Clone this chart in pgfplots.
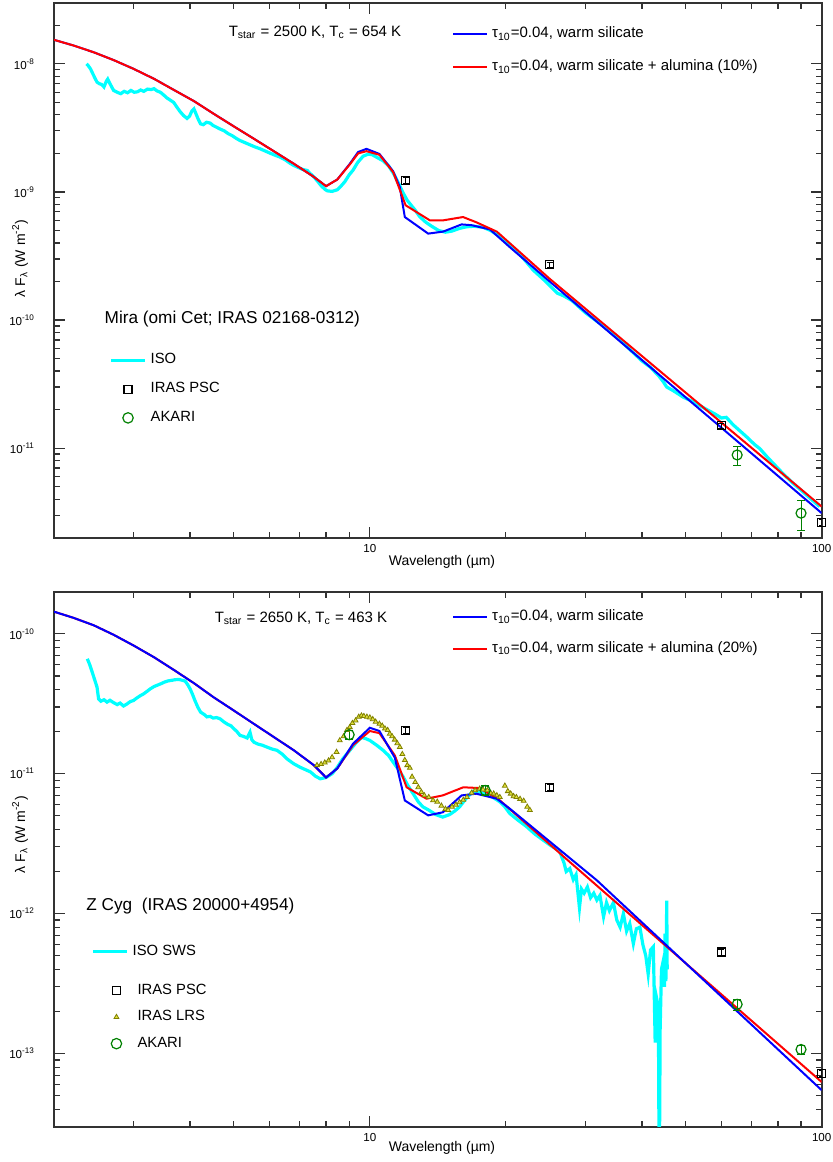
\documentclass[border=0pt]{standalone}
\usepackage{fontspec}
\setmainfont{Liberation Sans}
\usepackage{pgfplots}
\pgfplotsset{compat=1.18}

\definecolor{isocyan}{RGB}{0,255,255}
\definecolor{modblue}{RGB}{0,0,255}
\definecolor{modred}{RGB}{255,0,0}
\definecolor{akgreen}{RGB}{0,128,0}
\definecolor{lrsolive}{RGB}{128,128,0}
\definecolor{lrsfill}{RGB}{225,225,60}
\definecolor{axgray}{RGB}{50,50,50}

\pgfplotsset{
  psc/.style={only marks, mark=square, mark size=2pt, black,
    mark options={line width=0.6pt},
    error bars/y dir=both, error bars/y explicit,
    error bars/error mark options={rotate=90, mark size=1.5pt, black},
    error bars/error bar style={line width=0.5pt}},
  akari/.style={only marks, mark=o, mark size=2.5pt, akgreen,
    mark options={line width=0.6pt},
    error bars/y dir=both, error bars/y explicit,
    error bars/error mark options={rotate=90, mark size=2pt, akgreen},
    error bars/error bar style={line width=0.5pt, akgreen}},
  % legend sample: one mark in a cell as wide as a line sample
  markimage/.style={legend image code/.code={%
    \path[draw=none, fill=none] (0cm,0cm) -- (0.6cm,0cm);
    \draw[##1] plot coordinates {(0.3cm,0cm)};}},
}

\begin{document}
\begin{tikzpicture}
\path[use as bounding box] (0,0) rectangle (416.5pt,581pt);

% ---------------- Mira ----------------
\begin{axis}[at={(27pt,312.15pt)}, anchor=south west,
  scale only axis, width=383.85pt, height=267.5pt,
  xmode=log, ymode=log, xmin=2, xmax=100,
  xtick={10,100}, xticklabels={10,100},
  minor xtick={3,4,5,6,7,8,9,20,30,40,50,60,70,80,90},
  tick align=inside, major tick length=5.5pt, minor tick length=3pt,
  axis line style={axgray, line width=0.8pt},
  tick style={axgray, line width=0.6pt},
  tick label style={font=\fontsize{5.8}{6}\selectfont},
  yticklabel style={xshift=-6pt},
  ymin=2e-12, ymax=3e-8,
  ytick={1e-11,1e-10,1e-9,1e-8},
  yticklabels={10\textsuperscript{-11},10\textsuperscript{-10},10\textsuperscript{-9},10\textsuperscript{-8}},
  minor ytick={3e-12,4e-12,5e-12,6e-12,7e-12,8e-12,9e-12,
    2e-11,3e-11,4e-11,5e-11,6e-11,7e-11,8e-11,9e-11,
    2e-10,3e-10,4e-10,5e-10,6e-10,7e-10,8e-10,9e-10,
    2e-9,3e-9,4e-9,5e-9,6e-9,7e-9,8e-9,9e-9,2e-8},
  legend cell align=left,
  legend style={draw=none, fill=none, inner sep=0pt, anchor=west,
    at={(0.518,0.911)}, row sep=5.5pt, font=\fontsize{7.5}{9}\selectfont}]
% ISO
\addplot[isocyan, line width=1.6pt, forget plot] coordinates {
(2.36,1.0e-8)(2.38,9.7e-9)(2.41,9.1e-9)(2.44,8.3e-9)(2.47,7.6e-9)(2.49,7.2e-9)
(2.52,7.0e-9)(2.55,6.9e-9)(2.58,6.6e-9)(2.61,7.3e-9)(2.63,7.6e-9)(2.66,7.0e-9)
(2.69,6.5e-9)(2.71,6.2e-9)(2.76,6.0e-9)(2.81,5.85e-9)(2.86,6.1e-9)(2.91,5.95e-9)
(2.96,6.2e-9)(3.01,6.0e-9)(3.06,6.05e-9)(3.11,6.25e-9)(3.16,6.1e-9)(3.22,6.35e-9)
(3.28,6.3e-9)(3.33,6.4e-9)(3.38,6.15e-9)(3.44,6.0e-9)(3.50,5.7e-9)(3.56,5.4e-9)
(3.62,5.2e-9)(3.68,5.0e-9)(3.74,4.6e-9)(3.80,4.25e-9)(3.87,3.95e-9)(3.94,3.75e-9)
(3.99,3.9e-9)(4.04,4.3e-9)(4.08,4.45e-9)(4.12,4.1e-9)(4.17,3.7e-9)(4.22,3.4e-9)
(4.28,3.35e-9)(4.35,3.5e-9)(4.43,3.45e-9)(4.50,3.3e-9)(4.58,3.2e-9)(4.66,3.1e-9)
(4.76,3.0e-9)(4.86,2.85e-9)(4.96,2.75e-9)(5.06,2.62e-9)(5.16,2.52e-9)(5.30,2.42e-9)
(5.45,2.32e-9)(5.58,2.24e-9)(5.72,2.17e-9)(5.88,2.08e-9)(6.03,2.0e-9)(6.18,1.93e-9)
(6.33,1.87e-9)(6.50,1.78e-9)(6.65,1.68e-9)(6.79,1.61e-9)(6.95,1.55e-9)(7.10,1.5e-9)
(7.27,1.47e-9)(7.40,1.38e-9)(7.52,1.31e-9)(7.65,1.22e-9)(7.80,1.12e-9)(7.95,1.05e-9)
(8.05,1.02e-9)(8.25,1.01e-9)(8.47,1.04e-9)(8.65,1.12e-9)(8.80,1.2e-9)(9.00,1.36e-9)
(9.18,1.48e-9)(9.40,1.7e-9)(9.66,1.9e-9)(9.90,1.97e-9)(10.1,1.96e-9)(10.4,1.85e-9)
(10.7,1.75e-9)(11.0,1.6e-9)(11.3,1.38e-9)(11.6,1.15e-9)(11.85,9.8e-10)(12.1,8.6e-10)
(12.3,8.0e-10)(12.6,7.2e-10)(12.9,6.4e-10)(13.3,5.8e-10)(13.7,5.4e-10)(14.2,5.0e-10)
(14.7,4.85e-10)(15.2,4.95e-10)(15.8,5.2e-10)(16.4,5.35e-10)(17.0,5.4e-10)(17.8,5.3e-10)
(18.5,5.0e-10)(19.4,4.5e-10)(20.4,3.9e-10)(21.5,3.25e-10)(23.0,2.45e-10)(24.5,2.0e-10)
(26.0,1.62e-10)(26.8,1.55e-10)(28.0,1.42e-10)(30.0,1.14e-10)(32.3,9.4e-11)(35.0,7.5e-11)
(38.0,5.7e-11)(40.0,4.8e-11)(41.7,4.3e-11)(43.5,3.7e-11)(44.6,3.3e-11)(45.4,3.0e-11)
(47.0,2.8e-11)(49.4,2.5e-11)(52.0,2.3e-11)(55.0,2.05e-11)(58.0,1.85e-11)(60.0,1.72e-11)
(61.5,1.74e-11)(63.7,1.52e-11)(66.0,1.36e-11)(68.3,1.22e-11)(71.0,1.07e-11)(73.0,9.9e-12)
(75.6,8.6e-12)(79.0,7.3e-12)(82.2,6.3e-12)(86.0,5.4e-12)(90.0,4.7e-12)(94.0,4.1e-12)
(99.0,3.5e-12)};
% warm silicate
\addplot[modblue, line width=1pt] coordinates {
(2.0,1.54e-8)(2.21,1.39e-8)(2.45,1.23e-8)(2.71,1.07e-8)(3.0,9.14e-9)(3.33,7.64e-9)
(3.68,6.27e-9)(4.08,5.12e-9)(4.51,4.08e-9)(5.0,3.25e-9)(5.54,2.6e-9)(6.13,2.08e-9)
(6.79,1.66e-9)(7.52,1.31e-9)(8.0,1.11e-9)(8.47,1.25e-9)(9.03,1.66e-9)(9.42,2.05e-9)
(9.83,2.17e-9)(10.5,1.98e-9)(11.26,1.45e-9)(11.65,1.09e-9)(11.95,6.37e-10)(13.46,4.73e-10)
(14.52,4.9e-10)(15.96,5.58e-10)(16.8,5.5e-10)(18.44,5.1e-10)(20.42,3.7e-10)
(25,2.0e-10)(100,3.11e-12)};
\addlegendentry{τ\textsubscript{10}=0.04, warm silicate}
% warm silicate + alumina
\addplot[modred, line width=1pt] coordinates {
(2.0,1.54e-8)(2.21,1.39e-8)(2.45,1.23e-8)(2.71,1.07e-8)(3.0,9.14e-9)(3.33,7.64e-9)
(3.68,6.27e-9)(4.08,5.12e-9)(4.51,4.08e-9)(5.0,3.25e-9)(5.54,2.6e-9)(6.13,2.08e-9)
(6.79,1.66e-9)(7.52,1.31e-9)(8.0,1.11e-9)(8.47,1.25e-9)(9.03,1.64e-9)(9.42,2.0e-9)
(9.83,2.08e-9)(10.5,1.95e-9)(11.26,1.43e-9)(12.0,7.87e-10)(13.58,6.0e-10)(14.52,6.0e-10)
(16.08,6.37e-10)(17.2,5.8e-10)(19.1,4.9e-10)(25,2.1e-10)(100,3.5e-12)};
\addlegendentry{τ\textsubscript{10}=0.04, warm silicate + alumina (10\%)}
% IRAS PSC
\addplot[psc, forget plot] table[x=x, y=y, y error=e] {
x y e
12 1.23e-9 0.06e-9
25 2.71e-10 0.13e-10
60 1.50e-11 0.07e-11
100 2.64e-12 0.13e-12
};
% AKARI
\addplot[akari, forget plot] table[x=x, y=y, y error=e] {
x y e
65 8.85e-12 1.5e-12
90 3.11e-12 0.82e-12
};
\end{axis}

% data legend, Mira
\begin{axis}[at={(27pt,312.15pt)}, anchor=south west,
  scale only axis, width=383.85pt, height=267.5pt,
  xmin=0, xmax=1, ymin=0, ymax=1, hide axis,
  legend cell align=left,
  legend style={draw=none, fill=none, inner sep=0pt, anchor=west,
    at={(0.0716,0.2778)}, row sep=3.75pt, font=\fontsize{7.4}{9}\selectfont}]
\addlegendimage{isocyan, line width=1.6pt}
\addlegendentry{ISO}
\addlegendimage{markimage, only marks, mark=square, mark size=2pt, black, mark options={line width=0.6pt}}
\addlegendentry{IRAS PSC}
\addlegendimage{markimage, only marks, mark=o, mark size=2.6pt, akgreen, mark options={line width=0.6pt}}
\addlegendentry{AKARI}
\end{axis}

% ---------------- Z Cyg ----------------
\begin{axis}[at={(27pt,17.65pt)}, anchor=south west,
  scale only axis, width=383.85pt, height=267.5pt,
  xmode=log, ymode=log, xmin=2, xmax=100,
  xtick={10,100}, xticklabels={10,100},
  minor xtick={3,4,5,6,7,8,9,20,30,40,50,60,70,80,90},
  tick align=inside, major tick length=5.5pt, minor tick length=3pt,
  axis line style={axgray, line width=0.8pt},
  tick style={axgray, line width=0.6pt},
  tick label style={font=\fontsize{5.8}{6}\selectfont},
  yticklabel style={xshift=-6pt},
  ymin=3e-14, ymax=2e-10,
  ytick={1e-13,1e-12,1e-11,1e-10},
  yticklabels={10\textsuperscript{-13},10\textsuperscript{-12},10\textsuperscript{-11},10\textsuperscript{-10}},
  minor ytick={4e-14,5e-14,6e-14,7e-14,8e-14,9e-14,
    2e-13,3e-13,4e-13,5e-13,6e-13,7e-13,8e-13,9e-13,
    2e-12,3e-12,4e-12,5e-12,6e-12,7e-12,8e-12,9e-12,
    2e-11,3e-11,4e-11,5e-11,6e-11,7e-11,8e-11,9e-11,2e-10},
  legend cell align=left,
  legend style={draw=none, fill=none, inner sep=0pt, anchor=west,
    at={(0.518,0.9233)}, row sep=4.85pt, font=\fontsize{7.5}{9}\selectfont}]
% ISO SWS
\addplot[isocyan, line width=1.6pt, forget plot] coordinates {
(2.37,6.63e-11)(2.40,6.0e-11)(2.43,5.32e-11)(2.46,4.7e-11)(2.49,4.16e-11)(2.51,3.43e-11)
(2.54,3.3e-11)(2.58,3.38e-11)(2.62,3.25e-11)(2.66,3.35e-11)(2.71,3.22e-11)(2.76,3.12e-11)
(2.80,3.2e-11)(2.85,3.05e-11)(2.90,3.15e-11)(2.95,3.28e-11)(3.0,3.34e-11)(3.05,3.48e-11)
(3.10,3.6e-11)(3.16,3.73e-11)(3.22,3.9e-11)(3.27,4.05e-11)(3.33,4.2e-11)(3.39,4.3e-11)
(3.45,4.4e-11)(3.50,4.5e-11)(3.57,4.6e-11)(3.64,4.65e-11)(3.71,4.7e-11)(3.78,4.72e-11)
(3.85,4.65e-11)(3.90,4.6e-11)(3.95,4.35e-11)(4.0,4.05e-11)(4.05,3.7e-11)(4.10,3.34e-11)
(4.16,3.0e-11)(4.22,2.76e-11)(4.30,2.65e-11)(4.36,2.55e-11)(4.43,2.57e-11)(4.50,2.5e-11)
(4.58,2.52e-11)(4.66,2.47e-11)(4.75,2.35e-11)(4.85,2.25e-11)(4.93,2.2e-11)(5.0,2.1e-11)
(5.08,2.0e-11)(5.16,1.88e-11)(5.25,1.85e-11)(5.35,1.8e-11)(5.43,1.98e-11)(5.48,1.75e-11)
(5.54,1.68e-11)(5.65,1.63e-11)(5.78,1.6e-11)(5.92,1.55e-11)(6.08,1.5e-11)(6.23,1.47e-11)
(6.40,1.38e-11)(6.55,1.28e-11)(6.78,1.18e-11)(7.02,1.11e-11)(7.20,1.07e-11)(7.39,1.03e-11)
(7.58,9.6e-12)(7.77,9.2e-12)(8.0,9.4e-12)(8.25,1.0e-11)(8.47,1.11e-11)(8.70,1.27e-11)
(9.03,1.47e-11)(9.30,1.65e-11)(9.58,1.82e-11)(9.80,1.78e-11)(10.0,1.73e-11)(10.35,1.6e-11)
(10.7,1.47e-11)(11.0,1.35e-11)(11.26,1.21e-11)(11.55,1.08e-11)(11.85,9.5e-12)(12.15,8.2e-12)
(12.47,7.2e-12)(12.8,6.3e-12)(13.1,5.8e-12)(13.5,5.5e-12)(14.0,5.1e-12)(14.5,4.9e-12)
(15.0,5.1e-12)(15.4,5.4e-12)(15.8,5.8e-12)(16.3,6.6e-12)(16.9,7.5e-12)(17.5,7.4e-12)
(18.1,7.2e-12)(18.7,6.8e-12)(19.4,6.3e-12)(19.9,5.8e-12)(20.4,5.2e-12)(21.2,4.7e-12)
(22.2,4.2e-12)(23.2,3.7e-12)(24.2,3.35e-12)(25.2,3.05e-12)(26.3,2.8e-12)(26.9,2.3e-12)
(27.2,2.0e-12)(27.7,2.1e-12)(28.2,1.75e-12)(28.6,1.9e-12)(29.1,1.1e-12)(29.4,1.5e-12)
(29.8,1.4e-12)(30.3,1.55e-12)(30.8,1.3e-12)(31.3,1.4e-12)(31.8,1.25e-12)(32.3,1.35e-12)
(32.9,9.5e-13)(33.4,1.2e-12)(33.9,1.05e-12)(34.6,1.2e-12)(35.2,9.0e-13)(35.8,8.0e-13)
(36.4,1.0e-12)(37.0,7.5e-13)(37.6,8.5e-13)(38.3,6.1e-13)(38.9,7.8e-13)(39.6,8.0e-13)
(40.2,6.0e-13)(40.8,5.0e-13)(41.3,3.7e-13)(41.8,5.5e-13)(42.4,5.8e-13)(42.8,1.2e-13)
(43.1,2.5e-13)(43.5,2.15e-13)(43.7,1e-14)(43.9,1.5e-13)(44.2,4.0e-13)(44.6,4.6e-13)
(44.9,3.0e-13)(45.0,7.2e-13)(45.2,3.3e-13)(45.4,1.24e-12)(45.5,4.0e-13)};
% IRAS LRS
\addplot[only marks, mark=triangle*, mark size=1.4pt, lrsolive, forget plot,
  mark options={fill=lrsfill, draw=lrsolive, line width=0.4pt}] coordinates {
(7.64,1.15e-11)(7.8,1.17e-11)(7.95,1.2e-11)(8.1,1.24e-11)(8.25,1.31e-11)(8.44,1.43e-11)
(8.58,1.73e-11)(8.75,1.85e-11)(8.9,2.05e-11)(9.03,2.15e-11)(9.15,2.3e-11)(9.3,2.4e-11)
(9.45,2.55e-11)(9.58,2.6e-11)(9.7,2.58e-11)(9.85,2.55e-11)(10.0,2.52e-11)(10.15,2.45e-11)
(10.3,2.35e-11)(10.5,2.27e-11)(10.65,2.2e-11)(10.8,2.1e-11)(10.95,2.05e-11)(11.07,1.93e-11)
(11.2,1.85e-11)(11.35,1.75e-11)(11.5,1.65e-11)(11.65,1.55e-11)(11.8,1.38e-11)(11.95,1.25e-11)
(12.1,1.15e-11)(12.26,1.1e-11)(12.4,9.5e-12)(12.6,8.7e-12)(12.8,8.0e-12)(13.0,7.4e-12)
(13.2,7.0e-12)(13.5,6.8e-12)(13.8,6.45e-12)(14.1,6.3e-12)(14.4,5.9e-12)(14.7,5.6e-12)
(14.9,5.5e-12)(15.2,5.8e-12)(15.5,6.0e-12)(15.8,6.25e-12)(16.1,6.5e-12)(16.4,6.8e-12)
(16.8,7.3e-12)(17.1,7.6e-12)(17.5,7.8e-12)(17.8,7.7e-12)(18.2,7.6e-12)(18.5,7.3e-12)
(18.8,7.2e-12)(19.1,7.0e-12)(19.4,6.8e-12)(19.9,8.2e-12)(20.2,7.5e-12)(20.5,7.2e-12)
(20.8,6.9e-12)(21.1,6.8e-12)(21.5,6.6e-12)(21.9,6.4e-12)(22.3,5.8e-12)(22.6,5.5e-12)};
% warm silicate + alumina (drawn under the blue one)
\addplot[modred, line width=1pt, forget plot] coordinates {
(2.0,1.44e-10)(2.21,1.30e-10)(2.45,1.15e-10)(2.71,9.84e-11)(3.0,8.25e-11)(3.33,6.8e-11)
(3.68,5.53e-11)(4.08,4.44e-11)(4.51,3.52e-11)(5.0,2.83e-11)(5.54,2.27e-11)(6.13,1.83e-11)
(6.79,1.47e-11)(7.52,1.15e-11)(8.0,9.4e-12)(8.47,1.09e-11)(9.18,1.6e-11)(10.0,2.02e-11)
(10.5,1.95e-11)(11.36,1.35e-11)(12.06,8.0e-12)(13.35,6.63e-12)(14.5,7.0e-12)(16.1,8.0e-12)
(17.5,7.9e-12)(19.4,6.45e-12)(27.7,2.34e-12)(100,6.26e-14)};
% warm silicate
\addplot[modblue, line width=1pt] coordinates {
(2.0,1.44e-10)(2.21,1.30e-10)(2.45,1.15e-10)(2.71,9.84e-11)(3.0,8.25e-11)(3.33,6.8e-11)
(3.68,5.53e-11)(4.08,4.44e-11)(4.51,3.52e-11)(5.0,2.83e-11)(5.54,2.27e-11)(6.13,1.83e-11)
(6.79,1.47e-11)(7.52,1.15e-11)(8.0,9.4e-12)(8.47,1.09e-11)(9.18,1.64e-11)(10.0,2.13e-11)
(10.5,2.02e-11)(11.36,1.3e-11)(11.95,6.44e-12)(13.46,5.04e-12)(14.5,5.3e-12)(15.96,7.0e-12)
(17.2,7.2e-12)(19.1,6.63e-12)(20.4,5.63e-12)(31.8,1.73e-12)(100,5.47e-14)};
\addlegendentry{τ\textsubscript{10}=0.04, warm silicate}
\addlegendimage{modred, line width=1pt}
\addlegendentry{τ\textsubscript{10}=0.04, warm silicate + alumina (20\%)}
% IRAS PSC
\addplot[psc, forget plot] table[x=x, y=y, y error=e] {
x y e
12 2.04e-11 0.1e-11
25 8.0e-12 0.4e-12
60 5.32e-13 0.27e-13
100 7.2e-14 0.36e-14
};
% AKARI
\addplot[akari, forget plot] table[x=x, y=y, y error=e] {
x y e
9 1.9e-11 0.15e-11
18 7.6e-12 0.6e-12
65 2.25e-13 0.2e-13
90 1.07e-13 0.08e-13
};
\end{axis}

% data legends, Z Cyg
\begin{axis}[at={(27pt,17.65pt)}, anchor=south west,
  scale only axis, width=383.85pt, height=267.5pt,
  xmin=0, xmax=1, ymin=0, ymax=1, hide axis,
  legend cell align=left,
  legend style={draw=none, fill=none, inner sep=0pt, anchor=west,
    at={(0.0482,0.3273)}, font=\fontsize{7.4}{9}\selectfont}]
\addlegendimage{isocyan, line width=1.6pt}
\addlegendentry{ISO SWS}
\end{axis}

\begin{axis}[at={(27pt,17.65pt)}, anchor=south west,
  scale only axis, width=383.85pt, height=267.5pt,
  xmin=0, xmax=1, ymin=0, ymax=1, hide axis,
  legend cell align=left,
  legend style={draw=none, fill=none, inner sep=0pt, anchor=west,
    at={(0.0586,0.205)}, row sep=2.65pt, font=\fontsize{7.4}{9}\selectfont}]
\addlegendimage{markimage, only marks, mark=square, mark size=2pt, black, mark options={line width=0.6pt}}
\addlegendentry{IRAS PSC}
\addlegendimage{markimage, only marks, mark=triangle*, mark size=1.4pt, lrsolive,
  mark options={fill=lrsfill, draw=lrsolive, line width=0.4pt}}
\addlegendentry{IRAS LRS}
\addlegendimage{markimage, only marks, mark=o, mark size=2.6pt, akgreen, mark options={line width=0.6pt}}
\addlegendentry{AKARI}
\end{axis}

% texts
\node[font=\fontsize{7.5}{9}\selectfont] at (157.5pt,565.0pt)
  {T\textsubscript{star} = 2500 K, T\textsubscript{c} = 654 K};
\node[anchor=west, font=\fontsize{8.6}{10}\selectfont] at (48.84pt,421.35pt)
  {Mira (omi Cet; IRAS 02168-0312)};
\node[anchor=west, font=\fontsize{7}{8}\selectfont] at (190.87pt,300.0pt)
  {Wavelength (µm)};
\node[rotate=90, font=\fontsize{7}{8}\selectfont] at (10.0pt,451.8pt)
  {λ F\textsubscript{λ} (W m\textsuperscript{-2})};
\node[font=\fontsize{7.5}{9}\selectfont] at (150.49pt,271.99pt)
  {T\textsubscript{star} = 2650 K, T\textsubscript{c} = 463 K};
\node[anchor=west, font=\fontsize{8.6}{10}\selectfont] at (39.67pt,128.0pt)
  {Z Cyg\ \ (IRAS 20000+4954)};
\node[anchor=west, font=\fontsize{7}{8}\selectfont] at (190.87pt,7.0pt)
  {Wavelength (µm)};
\node[rotate=90, font=\fontsize{7}{8}\selectfont] at (10.0pt,163.7pt)
  {λ F\textsubscript{λ} (W m\textsuperscript{-2})};
\end{tikzpicture}
\end{document}
